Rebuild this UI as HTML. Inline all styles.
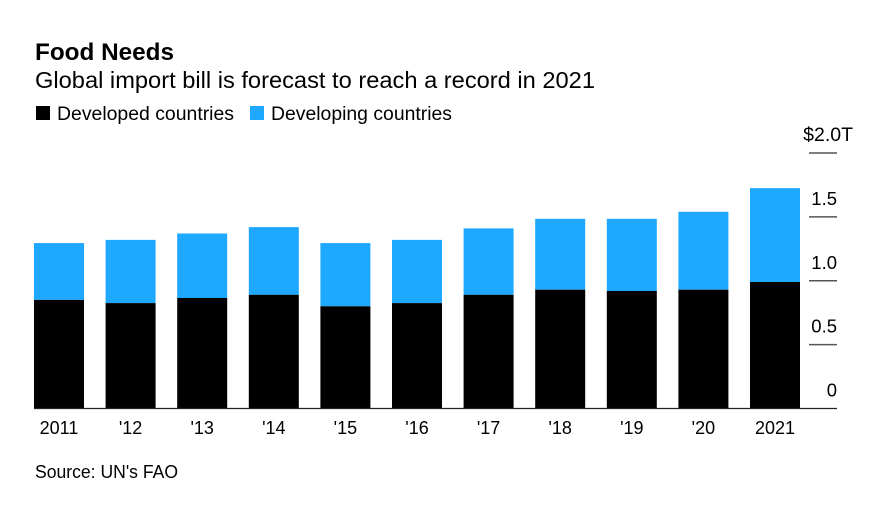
<!DOCTYPE html>
<html>
<head>
<meta charset="utf-8">
<style>
  html, body { margin: 0; padding: 0; background: #fff; }
  svg { display: block; font-family: "Liberation Sans", sans-serif; fill: #000; }
</style>
</head>
<body>
<svg id="chart" width="876" height="510" viewBox="0 0 876 510" xmlns="http://www.w3.org/2000/svg">
  <rect width="876" height="510" fill="#fff"/>
  <text x="35" y="60" font-size="24" font-weight="700" textLength="139" lengthAdjust="spacingAndGlyphs">Food Needs</text>
  <text x="35" y="88" font-size="23" textLength="560" lengthAdjust="spacingAndGlyphs">Global import bill is forecast to reach a record in 2021</text>
  <rect x="36" y="106" width="14" height="14" fill="#000"/>
  <text x="57" y="120" font-size="19" textLength="177" lengthAdjust="spacingAndGlyphs">Developed countries</text>
  <rect x="250" y="106" width="14" height="14" fill="#1fa8ff"/>
  <text x="271" y="120" font-size="19" textLength="181" lengthAdjust="spacingAndGlyphs">Developing countries</text>
  <g id="bars"></g>
  <g id="y-axis"></g>
  <g id="x-axis"></g>
  <text x="35" y="478" font-size="18" textLength="143" lengthAdjust="spacingAndGlyphs">Source: UN's FAO</text>
</svg>
<script>
const categories = ["2011", "'12", "'13", "'14", "'15", "'16", "'17", "'18", "'19", "'20", "2021"];
const developed = [0.85, 0.825, 0.865, 0.89, 0.80, 0.825, 0.89, 0.93, 0.92, 0.93, 0.99];
const developing = [0.445, 0.495, 0.505, 0.53, 0.495, 0.495, 0.52, 0.555, 0.565, 0.61, 0.735];
const yTicks = [0, 0.5, 1, 1.5, 2];
const yTickLabels = ["0", "0.5", "1.0", "1.5", "$2.0T"];

const NS = "http://www.w3.org/2000/svg";
const baseY = 408.5;
const pxPerUnit = 127.75;
const firstBarX = 34;
const barStep = 71.6;
const barW = 50;
function yScale(v) { return baseY - v * pxPerUnit; }
function xScale(i) { return firstBarX + i * barStep; }
function make(tag, attrs, parent) {
  const el = document.createElementNS(NS, tag);
  for (const k in attrs) el.setAttribute(k, attrs[k]);
  parent.appendChild(el);
  return el;
}
const barsG = document.getElementById('bars');
const yG = document.getElementById('y-axis');
const xG = document.getElementById('x-axis');

categories.forEach(function (cat, i) {
  const x = xScale(i);
  const topDev = yScale(developed[i]);
  const topAll = yScale(developed[i] + developing[i]);
  const blueBar = make('rect', { x: x, y: topAll, width: barW, height: topDev - topAll, fill: '#1fa8ff' }, barsG);
  
  
  const blackBar = make('rect', { x: x, y: topDev, width: barW, height: baseY - topDev, fill: '#000' }, barsG);
  
  
  const label = make('text', { x: x + barW / 2, y: 434, 'font-size': 18, 'text-anchor': 'middle' }, xG);
  
  
  label.textContent = cat;
});

yTicks.forEach(function (t, i) {
  const y = yScale(t);
  const isTop = i === yTicks.length - 1;
  const line = make('line', {
    x1: t === 0 ? firstBarX : 809, x2: 837, y1: y, y2: y,
    stroke: t === 0 ? '#222' : '#555', 'stroke-width': t === 0 ? 1.3 : 1.5
  }, yG);
  
  
  const label = make('text', { x: isTop ? 853 : 837, y: y - 12, 'font-size': isTop ? 19.5 : 18.5, 'text-anchor': 'end' }, yG);
  
  
  label.textContent = yTickLabels[i];
});
</script>
</body>
</html>
